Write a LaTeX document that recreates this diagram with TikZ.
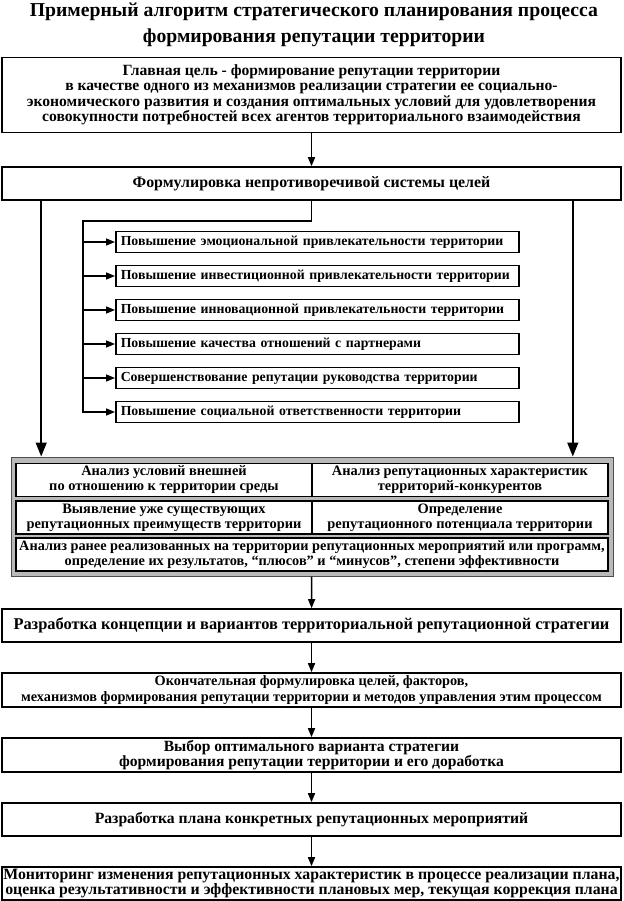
\documentclass[tikz,border=0pt]{standalone}
\usepackage{fontspec}
\setmainfont{Liberation Serif}
\usetikzlibrary{arrows.meta}
\newcommand\shrift[2]{\bfseries\fontsize{#1}{#2}\selectfont}
\tikzset{
	blok/.style={draw, line width=1.6pt, align=center, inner sep=0pt, minimum width=619pt, font=\shrift{15.6}{15.5}},
	cel/.style={draw, line width=1.5pt, anchor=west, align=left, inner xsep=5pt, inner ysep=0pt, text width=393pt, minimum height=21pt, font=\shrift{13.8}{15}},
	ramka/.style={draw=gray!60!black, fill=gray!55, line width=1pt, minimum width=602pt, minimum height=119pt},
	polka/.style={draw, fill=white, line width=1.2pt, align=center, inner sep=0pt, minimum height=33pt, font=\shrift{14.4}{15}},
	strelka/.style={line width=1.5pt, -{Triangle[length=9pt, width=7pt]}},
	bolshaya/.style={line width=1.5pt, -{Triangle[length=14pt, width=11pt]}}
}
\begin{document}
\begin{tikzpicture}[x=1pt, y=-1pt]
			\useasboundingbox (0,0) rectangle (623,901);
			\node[align=center, font=\shrift{19.7}{26}] (title) at (314,25) {Примерный алгоритм стратегического планирования процесса\\формирования репутации территории};
			\node[blok, minimum height=75pt] (main) at (311.5,95) {Главная цель - формирование  репутации территории\\в качестве одного из механизмов  реализации стратегии ее социально-\\экономического развития и создания оптимальных условий для удовлетворения\\совокупности потребностей всех агентов территориального взаимодействия};
			\node[blok, minimum height=33pt, font=\shrift{15.9}{16}] (form) at (311.5,183.5) {Формулировка непротиворечивой системы целей};
			\foreach \t [count=\i] in {Повышение эмоциональной привлекательности территории, Повышение инвестиционной  привлекательности территории, Повышение инновационной  привлекательности территории, Повышение качества отношений с партнерами, Совершенствование репутации руководства территории, Повышение социальной ответственности территории}
				\node[cel] (g\i) at (115,{208+34*\i}) {\t};
			\coordinate (br) at (83,221);
			\draw[strelka] (form.south) |- (br) |- (g6.west);
			\foreach \i in {1,...,5}
				\draw[strelka] (br |- g\i.west) -- (g\i.west);
			\node[ramka] (ram) at (312,516.5) {};
			\node[polka, minimum width=296pt] (r1a) at (164,480) {Анализ условий внешней\\по отношению к территории среды};
			\node[polka, minimum width=296pt] (r1b) at (460,480) {Анализ репутационных характеристик\\территорий-конкурентов};
			\node[polka, minimum width=296pt] (r2a) at (164,517.5) {Выявление уже существующих\\репутационных преимуществ территории};
			\node[polka, minimum width=296pt] (r2b) at (460,517.5) {Определение\\репутационного потенциала территории};
			\node[polka, minimum width=592pt, font=\shrift{14.3}{15}] (r3) at (312,554.5) {Анализ ранее реализованных на территории репутационных мероприятий или программ,\\определение  их результатов, “плюсов” и “минусов”,  степени эффективности};
			\draw[bolshaya] ([xshift=40pt]form.south west) -- ([xshift=40pt]form.south west |- ram.north);
			\draw[bolshaya] ([xshift=-49pt]form.south east) -- ([xshift=-49pt]form.south east |- ram.north);
			\node[blok, minimum height=33pt, font=\shrift{16.4}{16}] (dev) at (311.5,625.5) {Разработка  концепции и вариантов территориальной репутационной стратегии};
			\node[blok, minimum height=34pt, font=\shrift{14.3}{15.5}] (fin) at (311.5,690) {Окончательная формулировка целей, факторов,\\механизмов формирования репутации территории и методов управления этим процессом};
			\node[blok, minimum height=34pt] (vybor) at (311.5,755) {Выбор оптимального варианта стратегии\\формирования репутации территории и его доработка};
			\node[blok, minimum height=33pt, font=\shrift{15.7}{16}] (plan) at (311.5,819.5) {Разработка плана конкретных репутационных мероприятий};
			\node[blok, minimum height=33pt, font=\shrift{15.8}{15.5}] (mon) at (311.5,883.5) {Мониторинг изменения репутационных характеристик в процессе реализации плана,\\оценка результативности и эффективности плановых мер, текущая коррекция плана};
			\draw[strelka] (main) -- (form);
			\draw[strelka] (ram) -- (dev);
			\draw[strelka] (dev) -- (fin);
			\draw[strelka] (fin) -- (vybor);
			\draw[strelka] (vybor) -- (plan);
			\draw[strelka] (plan) -- (mon);
			\end{tikzpicture}
\end{document}
